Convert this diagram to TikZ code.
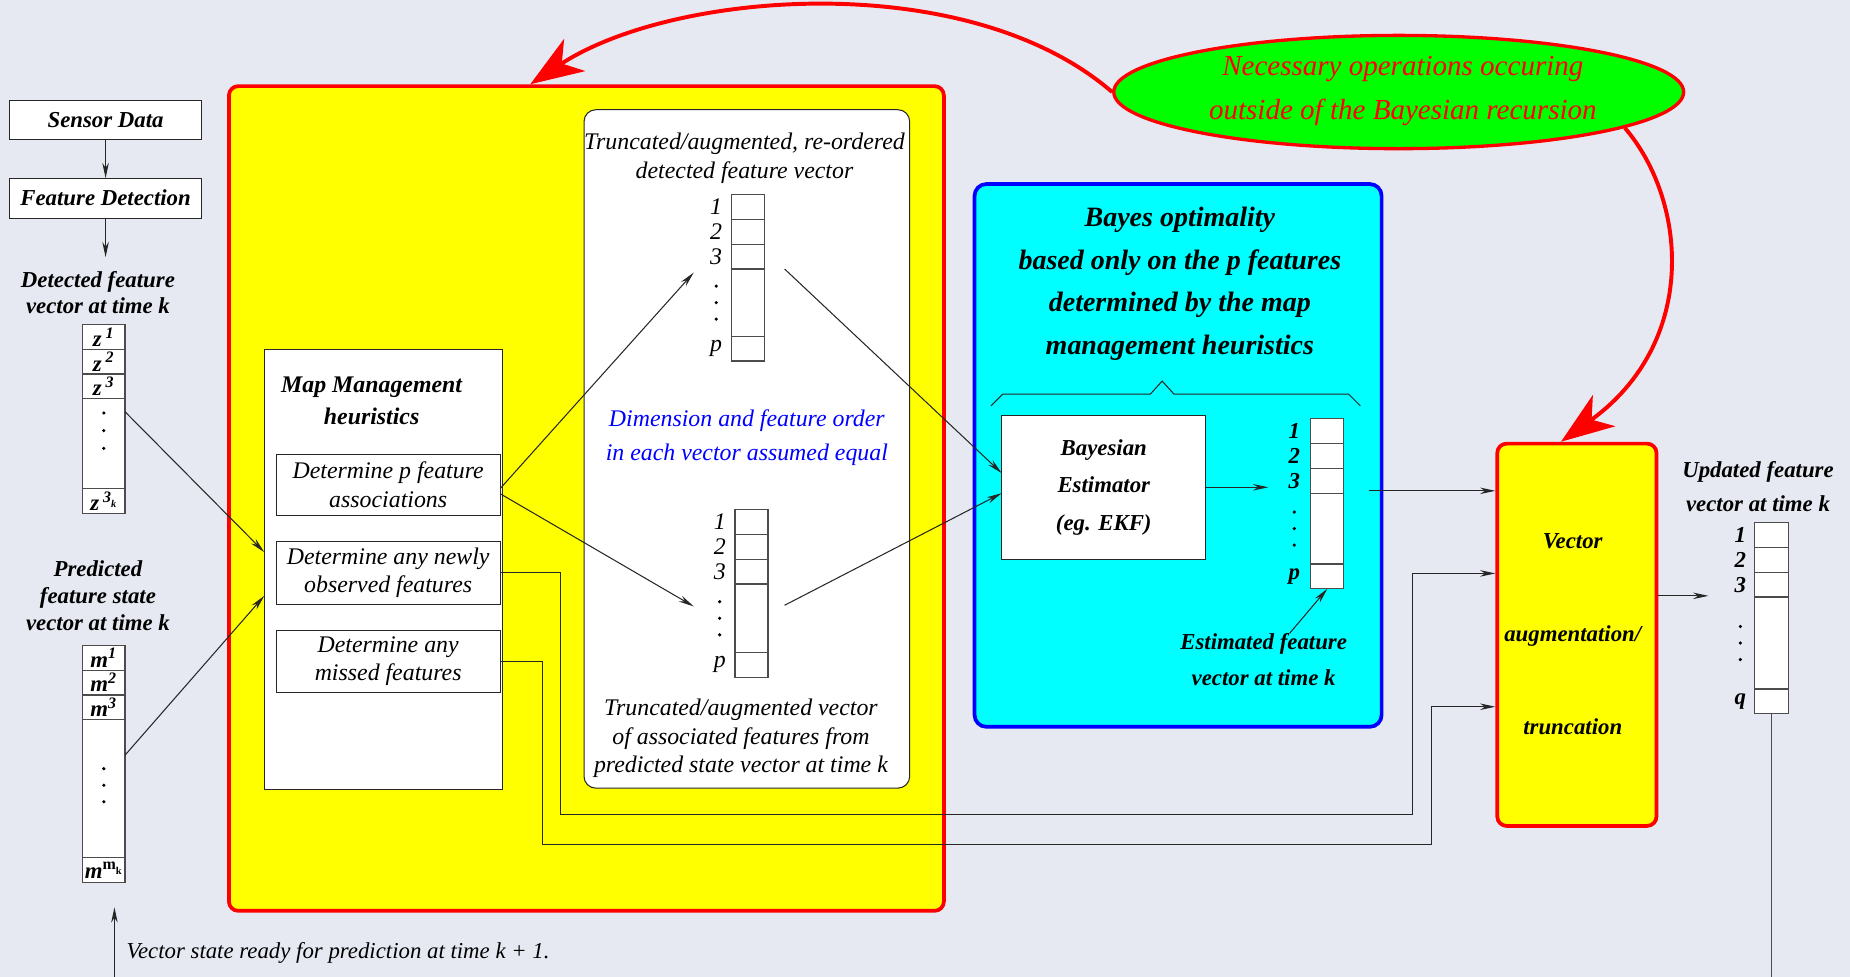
\documentclass[tikz,border=0pt]{standalone}
\usepackage{fontspec}
\setmainfont{Liberation Serif}
\newfontfamily\figfont{Liberation Serif}
\usetikzlibrary{arrows.meta,shapes.geometric,calc}

\definecolor{pagebg}{RGB}{230,233,242}
\definecolor{boxyellow}{RGB}{255,255,0}
\definecolor{boxcyan}{RGB}{0,255,255}
\definecolor{boxgreen}{RGB}{0,255,0}
\definecolor{linered}{RGB}{255,0,0}
\definecolor{lineblue}{RGB}{0,0,255}
\newcommand{\px}{0.2mm}
\newcommand{\bit}[2]{\figfont\fontsize{#1}{#2}\selectfont\bfseries\itshape}
\newcommand{\nit}[2]{\figfont\fontsize{#1}{#2}\selectfont\itshape}

\tikzset{
  thinline/.style={line width=0.5pt, draw=black!85},
  box/.style={draw=black!85, line width=0.5pt, fill=white, rectangle, inner sep=0pt, outer sep=0pt, align=center},
  cellbox/.style={draw=black!70, line width=0.6pt, fill=white, inner sep=0pt, outer sep=0pt},
  cellline/.style={draw=black!70, line width=0.6pt},
  arr/.style={thinline, -{Stealth[length=2.6mm,width=1.1mm]}},
  redarr/.style={linered, line width=1.9pt, -{Stealth[length=9mm,width=6.5mm,inset=2.6mm]}},
  txt/.style={align=center, inner sep=0pt},
}

% a column vector: name, left, top, width, height of the dotted part
\newcommand{\cellvec}[5]{%
  \node[cellbox, anchor=north west, minimum width=#4*\px, minimum height={(84+#5)*\px}] (#1) at (#2,#3) {};
  \foreach \k in {21,42,63}
    \draw[cellline] ([yshift=-\k*\px]#1.north west) -- ([yshift=-\k*\px]#1.north east);
  \draw[cellline] ([yshift=21*\px]#1.south west) -- ([yshift=21*\px]#1.south east);
}
% index labels left of a vector: name, font, last label, offset
\newcommand{\celllabels}[4]{%
  \foreach \k in {1,2,3}
    \node[txt, font=#2] (#1-\k) at ([xshift=-#4*\px, yshift={-(21*\k-10.5)*\px}]#1.north west) {\k};
  \node[txt, font=#2] (#1-last) at ([xshift=-#4*\px, yshift=10.5*\px]#1.south west) {#3};
  \foreach \d in {7,21,35}
    \fill ([xshift=-#4*\px, yshift=-\d*\px]#1.west) circle[radius=0.3mm];
}

\begin{document}
\begin{tikzpicture}[x=\px, y=-\px]
\fill[pagebg] (0,0) rectangle (1568,828);
\useasboundingbox (0,0) rectangle (1568,828);

% coloured frames
\node[draw=linered, line width=1.8pt, fill=boxyellow, rounded corners=1.6mm, minimum width=606*\px, minimum height=699*\px] (mapbox) at (497,422.5) {};
\node[draw=lineblue, line width=1.8pt, fill=boxcyan, rounded corners=2mm, minimum width=345*\px, minimum height=460*\px] (bayesbox) at (998.5,386) {};
\node[draw=linered, line width=1.8pt, fill=boxyellow, rounded corners=1.6mm, minimum width=135*\px, minimum height=324*\px] (vecaug) at (1336.5,538) {};
\node[ellipse, draw=linered, line width=1.6pt, fill=boxgreen, minimum width=483*\px, minimum height=96*\px, inner sep=0pt] (opsell) at (1185.5,78) {};
\node[txt, font=\nit{14}{21.5}, text=linered] (opslab) at (1189,77) {Necessary operations occuring\\outside of the Bayesian recursion};

% left column
\node[box, minimum width=163*\px, minimum height=33*\px, font=\bit{11}{13}] (sensor) at (89.5,101.5) {Sensor Data};
\node[box, minimum width=163*\px, minimum height=34*\px, font=\bit{11}{13}] (featdet) at (89.5,168) {Feature Detection};
\draw[arr] (sensor.south) -- (featdet.north);
\draw[arr] (featdet.south) -- ++(0,33);
\node[txt, font=\bit{11}{12.5}] (detlab) at (83,248) {Detected feature\\vector at time k};
\cellvec{zvec}{70}{275}{36}{76}
\foreach \k in {1,2,3}
  \node[txt, font=\bit{11}{12}] (zvec-\k) at ([yshift={-(21*\k-10.5)*\px}]zvec.north) {z\,\textsuperscript{\k}};
\node[txt, font=\bit{11}{12}] (zvec-last) at ([yshift=10.5*\px]zvec.south) {z\,\textsuperscript{3\raisebox{-.7ex}{\tiny k}}};
\foreach \d in {-5,10,25} \fill ([yshift=-\d*\px]zvec.center) circle[radius=0.3mm];
\node[txt, font=\bit{11}{13}] (predlab) at (83,505) {Predicted\\feature state\\vector at time k};
\cellvec{mvec}{70}{547}{36}{117}
\foreach \k in {1,2,3}
  \node[txt, font=\bit{11}{12}] (mvec-\k) at ([yshift={-(21*\k-10.5)*\px}]mvec.north) {m\textsuperscript{\k}};
\node[txt, font=\bit{11}{12}] (mvec-last) at ([yshift=10.5*\px]mvec.south) {m\textsuperscript{\upshape m\raisebox{-.6ex}{\tiny k}}};
\foreach \d in {4,18,32} \fill ([yshift=-\d*\px]mvec.center) circle[radius=0.3mm];

% map management
\node[box, minimum width=202*\px, minimum height=373*\px] (mmbox) at (325,482.5) {};
\node[txt, font=\bit{11.5}{15.5}] (mmlab) at (315,340) {Map Management\\heuristics};
\node[box, minimum width=190*\px, minimum height=52*\px, font=\nit{11.5}{13.7}] (assoc) at (329,411) {Determine p feature\\associations};
\node[box, minimum width=190*\px, minimum height=53*\px, font=\nit{11.5}{13.7}] (newly) at (329,485.5) {Determine any newly\\observed features};
\node[box, minimum width=190*\px, minimum height=53*\px, font=\nit{11.5}{13.7}] (missed) at (329,560.5) {Determine any\\missed features};
\draw[arr] ([yshift=1.2mm]zvec.east) -- ([yshift=2.9mm]mmbox.west);
\draw[arr] ([yshift=1.5mm]mvec.east) -- ([yshift=-4.5mm]mmbox.west);

% truncated / augmented vectors
\node[box, rounded corners=2mm, minimum width=276*\px, minimum height=575*\px] (midbox) at (633,380.5) {};
\node[txt, font=\nit{11.5}{14}] (toplab) at (631,134.5) {Truncated/augmented, re-ordered\\detected feature vector};
\cellvec{pvecA}{620}{165}{28}{57}
\celllabels{pvecA}{\nit{11.5}{12}}{p}{13}
\node[txt, font=\nit{11.5}{16}, text=lineblue] (equal) at (633,371) {Dimension and feature order\\in each vector assumed equal};
\cellvec{pvecB}{623}{432}{28}{58}
\celllabels{pvecB}{\nit{11.5}{12}}{p}{13}
\node[txt, font=\nit{11.5}{13.7}] (botlab) at (628,626) {Truncated/augmented vector\\of associated features from\\predicted state vector at time k};
\coordinate (tipA) at (588,231);
\coordinate (tipB) at (588,514);
\draw[arr] ([yshift=-0.6mm]assoc.east) -- (tipA);
\draw[arr] ([yshift=-1.5mm]assoc.east) -- (tipB);

% Bayesian recursion
\node[txt, font=\bit{13.5}{20.5}] (bayeslab) at (1000,240.5) {Bayes optimality\\based only on the p features\\determined by the map\\management heuristics};
\draw[thinline] (840,344) -- (850,334) -- (975,334) -- (985,323) -- (995,334) -- (1143,334) -- (1153,344);
\node[box, minimum width=173*\px, minimum height=122*\px, font=\bit{11}{18}] (estim) at (935.5,413) {Bayesian\\Estimator\\(eg. EKF)};
\coordinate (outA) at (665,228);
\coordinate (outB) at (665,513);
\draw[arr] (outA) -- ([yshift=2.4mm]estim.west);
\draw[arr] (outB) -- ([yshift=-1mm]estim.west);
\cellvec{estvec}{1111}{355}{28}{60}
\celllabels{estvec}{\bit{11}{12}}{p}{14}
\coordinate (esttip) at (1075,413);
\draw[arr] (estim.east) -- (esttip);
\node[txt, font=\bit{11}{17}] (estlab) at (1071,559) {Estimated feature\\vector at time k};
\draw[arr] ([xshift=4.4mm]estlab.north) -- (estvec.south);

% vector augmentation
\node[txt, font=\bit{11}{45}] (auglab) at (1333,537.5) {Vector\\augmentation/\\truncation};
\coordinate (estout) at (1160,416);
\draw[arr] (estout) -- (estout -| vecaug.west);
\draw[arr] (newly.east) -- ++(51,0) |- (1197,690) |- ([yshift=10.4mm]vecaug.west);
\draw[arr] (missed.east) -- ++(36,0) |- (1213,716) |- ([yshift=-12.2mm]vecaug.west);
\node[txt, font=\bit{11}{16.5}] (updlab) at (1490,412.5) {Updated feature\\vector at time k};
\cellvec{updvec}{1487}{443}{29}{78}
\celllabels{updvec}{\bit{11}{12}}{q}{12}
\coordinate (updtip) at (1448,505);
\draw[arr] (vecaug.east |- updtip) -- (updtip);

% back to prediction
\coordinate (back) at (97,828);
\draw[cellline] (updvec.south) -- (updvec.south |- back);
\draw[arr] (back) -- ++(0,-59);
\node[txt, font=\nit{11}{13}, anchor=west] (readylab) at (107,808) {Vector state ready for prediction at time k + 1.};

% operations outside the recursion
\draw[redarr] (opsell.west) .. controls (820,-28) and (570,-8) .. ([xshift=257*\px]mapbox.north west);
\draw[redarr] (opsell.-9) .. controls (1430,170) and (1440,290) .. ([xshift=-2.7mm]vecaug.north);
\end{tikzpicture}
\end{document}
